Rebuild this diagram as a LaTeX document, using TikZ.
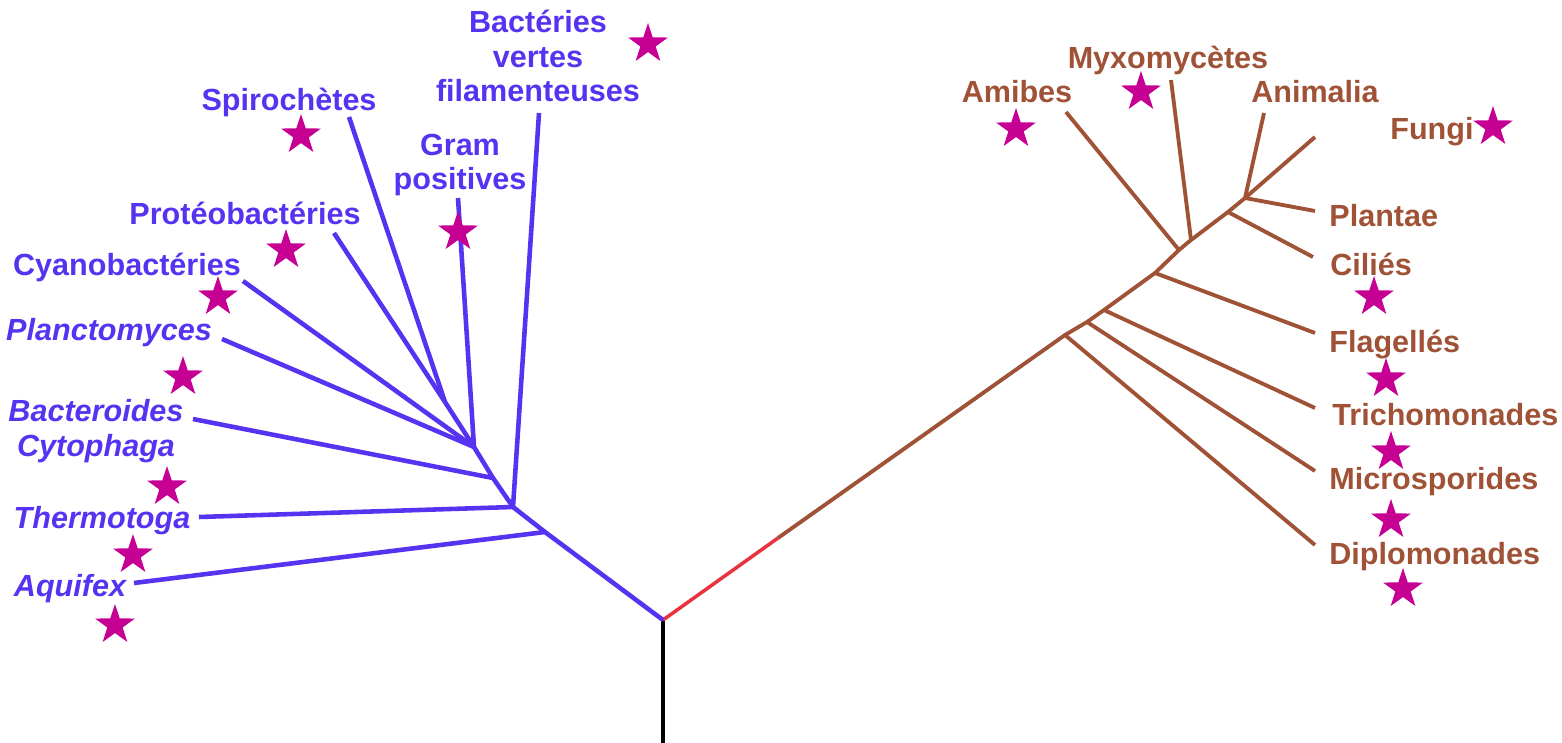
\documentclass[tikz,border=0pt]{standalone}
\usepackage{fontspec}
\setmainfont{Liberation Sans}
\usepackage{xcolor}
\usepackage{tikz}
\usetikzlibrary{
shapes.geometric
}

\definecolor{bleu}{RGB}{85,51,240}
\definecolor{brun}{RGB}{160,82,55}
\definecolor{rose}{RGB}{199,0,148}
\definecolor{rouge}{RGB}{232,51,64}

\begin{document}
\begin{tikzpicture}[
x=0.02cm,
y=-0.02cm,
bact/.style={
text=bleu,
font=\fontsize{17.4}{19.5}\selectfont\bfseries,
align=center,
inner sep=0pt
},
bacti/.style={
bact,
font=\fontsize{17.4}{19.5}\selectfont\bfseries\itshape
},
euk/.style={
text=brun,
font=\fontsize{17.4}{19.5}\selectfont\bfseries,
inner sep=0pt
},
bline/.style={draw=bleu,line width=2.6pt},
eline/.style={draw=brun,line width=2.2pt},
starmark/.style={
star,
star points=5,
star point ratio=2.6,
fill=rose,
draw=none,
minimum size=0.84cm,
inner sep=0pt
}
]

\useasboundingbox (0,0) rectangle (1562,743);

\coordinate (base) at (663,743);
\coordinate (root) at (663,620);
\coordinate (split) at (778,538);

\coordinate (jaqu) at (545,532);
\coordinate (jthe) at (513,507);
\coordinate (jbac) at (493,478);
\coordinate (jgra) at (474,447);
\coordinate (jspi) at (445,402);

\coordinate (eaqu) at (134,583);
\coordinate (ethe) at (199,517);
\coordinate (ebac) at (193,419);
\coordinate (epla) at (222,339);
\coordinate (ecya) at (243,281);
\coordinate (epro) at (334,233);
\coordinate (espi) at (349,117);
\coordinate (egra) at (458,198);
\coordinate (ever) at (539,113);

\coordinate (jdip) at (1065,335);
\coordinate (jmic) at (1087,322);
\coordinate (jtri) at (1104,310);
\coordinate (jfla) at (1155,273);
\coordinate (jami) at (1179,250);
\coordinate (jmyx) at (1191,240);
\coordinate (jcil) at (1228,212);
\coordinate (jpln) at (1245,198);

\coordinate (edip) at (1315,545);
\coordinate (emic) at (1315,471);
\coordinate (etri) at (1315,408);
\coordinate (efla) at (1315,333);
\coordinate (eami) at (1066,112);
\coordinate (emyx) at (1171,80);
\coordinate (ecil) at (1313,257);
\coordinate (epln) at (1315,211);
\coordinate (eani) at (1264,113);
\coordinate (efun) at (1315,137);

\node[bact] (lver) at (538,56) {Bactéries\\vertes\\filamenteuses};
\node[bact] (lspi) at (289,102) {Spirochètes};
\node[bact] (lgra) at (460,165) {Gram\\positives};
\node[bact] (lpro) at (245,213) {Protéobactéries};
\node[bact] (lcya) at (127,267) {Cyanobactéries};
\node[bacti] (lpla) at (109,333) {Planctomyces};
\node[bacti] (lbac) at (96,431) {Bacteroides\\Cytophaga};
\node[bacti] (lthe) at (102,521) {Thermotoga};
\node[bacti] (laqu) at (70,589) {Aquifex};

\node[euk] (lami) at (1017,92) {Amibes};
\node[euk] (lmyx) at (1168,60) {Myxomycètes};
\node[euk] (lani) at (1315,92) {Animalia};
\node[euk,anchor=west] (lfun) at (1390,132) {Fungi};
\node[euk,anchor=west] (lpln) at (1329,216) {Plantae};
\node[euk,anchor=west] (lcil) at (1330,264) {Ciliés};
\node[euk,anchor=west] (lfla) at (1329,345) {Flagellés};
\node[euk,anchor=west] (ltri) at (1332,415) {Trichomonades};
\node[euk,anchor=west] (lmic) at (1329,482) {Microsporides};
\node[euk,anchor=west] (ldip) at (1329,557) {Diplomonades};

\draw[line width=2pt] (base) -- (root);
\draw[rouge,line width=2pt] (root) -- (split);

\draw[bline] (root) -- (jaqu) -- (jthe) -- (jbac) -- (jgra);
\draw[bline] (jaqu) -- (eaqu);
\draw[bline] (jthe) -- (ethe);
\draw[bline] (jthe) -- (ever);
\draw[bline] (jbac) -- (ebac);
\draw[bline] (jgra) -- (egra);
\draw[bline] (jgra) -- (epla);
\draw[bline] (jgra) -- (ecya);
\draw[bline] (jgra) -- (jspi);
\draw[bline] (jspi) -- (epro);
\draw[bline] (jspi) -- (espi);

\draw[eline] (split) -- (jdip) -- (jmic) -- (jtri) -- (jfla) -- (jami) -- (jmyx) -- (jcil) -- (jpln);
\draw[eline] (jdip) -- (edip);
\draw[eline] (jmic) -- (emic);
\draw[eline] (jtri) -- (etri);
\draw[eline] (jfla) -- (efla);
\draw[eline] (jami) -- (eami);
\draw[eline] (jmyx) -- (emyx);
\draw[eline] (jcil) -- (ecil);
\draw[eline] (jpln) -- (epln);
\draw[eline] (jpln) -- (eani);
\draw[eline] (jpln) -- (efun);

\node[starmark] (sver) at (648,44) {};
\node[starmark] (sspi) at (301,135) {};
\node[starmark] (sgra) at (458,232) {};
\node[starmark] (spro) at (286,250) {};
\node[starmark] (scya) at (218,297) {};
\node[starmark] (spla) at (183,377) {};
\node[starmark] (sbac) at (167,487) {};
\node[starmark] (sthe) at (133,555) {};
\node[starmark] (saqu) at (115,625) {};

\node[starmark] (sami) at (1016,129) {};
\node[starmark] (smyx) at (1141,92) {};
\node[starmark] (sfun) at (1493,127) {};
\node[starmark] (scil) at (1374,297) {};
\node[starmark] (sfla) at (1386,379) {};
\node[starmark] (stri) at (1391,452) {};
\node[starmark] (smic) at (1391,520) {};
\node[starmark] (sdip) at (1403,589) {};

\end{tikzpicture}
\end{document}
